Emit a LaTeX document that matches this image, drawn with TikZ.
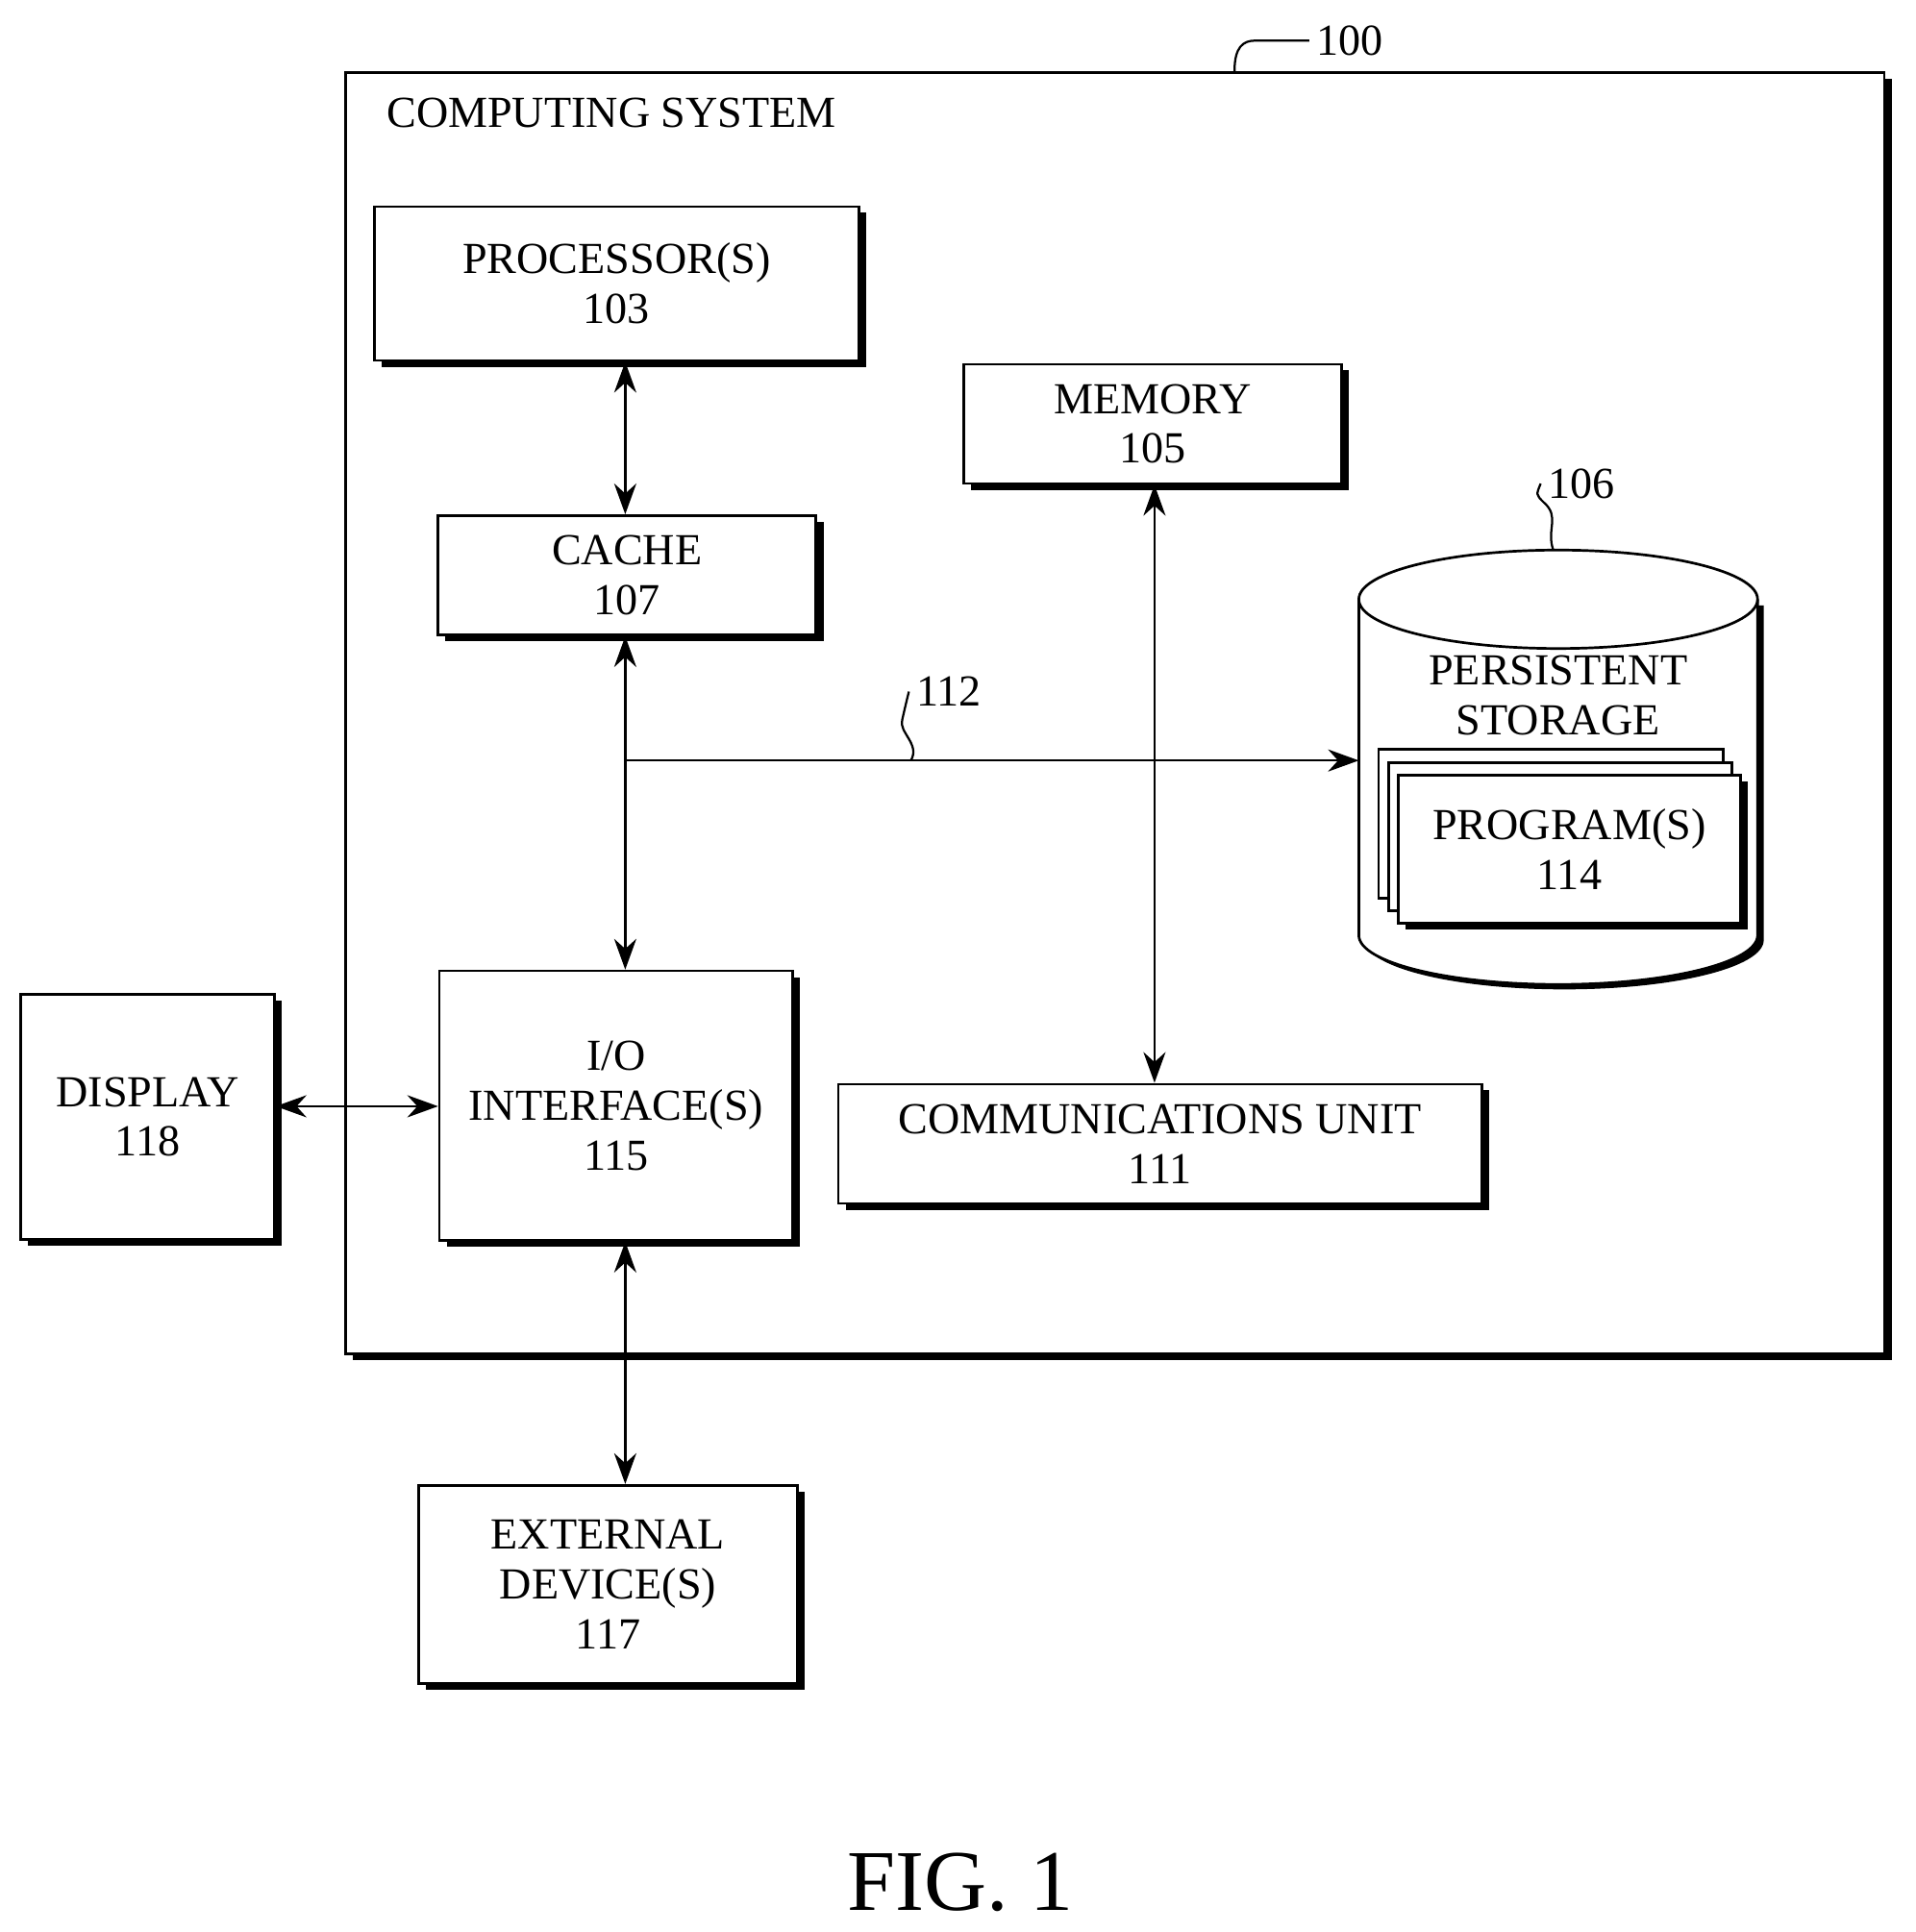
\documentclass[tikz,border=0pt]{standalone}
\usepackage{fontspec}
\setmainfont{Liberation Serif}
\usetikzlibrary{arrows.meta,shadows}
\begin{document}
\begin{tikzpicture}[x=0.2mm,y=-0.2mm,
  every node/.style={font=\fontsize{20.5}{23}\selectfont, align=center},
  box/.style={draw, line width=1.2pt, fill=white, inner sep=0pt,
    drop shadow={shadow xshift=1.2mm, shadow yshift=-1.0mm, fill=black, opacity=1}},
  arr/.style={line width=1.1pt, {Stealth[length=5mm,width=3.6mm]}-{Stealth[length=5mm,width=3.6mm]}},
  lead/.style={line width=1pt}]
\useasboundingbox (0,0) rectangle (1556,1570);
% outer
\node[box, minimum width=250mm, minimum height=208.2mm] (sys) at (906,579.5) {};
\node[anchor=west] (syslbl) at (308,92) {COMPUTING SYSTEM};
\node (l100) at (1097,33) {100};
\draw[lead] (1003,58) .. controls (1003,38) and (1010,33) .. (1020,33) -- (l100.west);
% boxes
\node[box, minimum width=78.8mm, minimum height=25mm] (proc) at (501,230.5) {PROCESSOR(S)\\103};
\node[box, minimum width=61.4mm, minimum height=19.4mm] (cache) at (509.5,467.5) {CACHE\\107};
\node[box, minimum width=61.4mm, minimum height=19.4mm] (mem) at (936.5,344.5) {MEMORY\\105};
\node[box, minimum width=57.4mm, minimum height=43.8mm] (io) at (500.5,898.5) {I/O\\INTERFACE(S)\\115};
\node[box, minimum width=41.2mm, minimum height=39.8mm] (disp) at (120,907.5) {DISPLAY\\118};
\node[box, minimum width=104.6mm, minimum height=19.4mm] (comm) at (942.5,929.5) {COMMUNICATIONS UNIT\\111};
\node[box, minimum width=61.6mm, minimum height=32.2mm] (ext) at (494,1287.5) {EXTERNAL\\DEVICE(S)\\117};
% cylinder
\fill[black] (1109,492) -- (1109,764) arc[start angle=180,end angle=0,x radius=162,y radius=40] -- (1433,492) -- cycle;
\draw[line width=1.2pt, fill=white] (1104,487) -- (1104,760) arc[start angle=180,end angle=0,x radius=162,y radius=40] -- (1428,487) arc[start angle=0,end angle=-180,x radius=162,y radius=40] -- cycle;
\draw[line width=1.2pt] (1104,487) arc[start angle=180,end angle=0,x radius=162,y radius=40];
\node (pslbl) at (1266,565) {PERSISTENT\\STORAGE};
\coordinate (psin) at (1104,618);
\draw[line width=1.2pt, fill=white] (1120,609) rectangle (1400,730);
\draw[line width=1.2pt, fill=white] (1128,620) rectangle (1407,740);
\node[box, minimum width=55.6mm, minimum height=24mm] (prog) at (1275,690) {PROGRAM(S)\\114};
\node (l106) at (1285,393) {106};
\draw[lead] (1262,447) .. controls (1256,430) and (1268,420) .. (1254,408) .. controls (1248,402) .. (l106.west);
% connectors
\draw[arr] (proc.south -| 508,0) -- (cache.north -| 508,0);
\draw[arr] (cache.south -| 508,0) -- (io.north -| 508,0);
\coordinate (bus) at (508,618);
\draw[line width=1.1pt, -{Stealth[length=5mm,width=3.6mm]}] (bus) -- (psin);
\draw[arr] (mem.south -| 938,0) -- (comm.north -| 938,0);
\draw[arr] (disp.east |- 0,899) -- (io.west |- 0,899);
\draw[arr] (io.south -| 508,0) -- (ext.north -| 508,0);
\node (l112) at (771,562) {112};
\draw[lead] (740,618) .. controls (748,605) and (730,595) .. (733,585) .. controls (736,572) .. (l112.west);
\node[font=\fontsize{40}{44}\selectfont] (fig) at (780,1530) {FIG. 1};
\end{tikzpicture}
\end{document}
